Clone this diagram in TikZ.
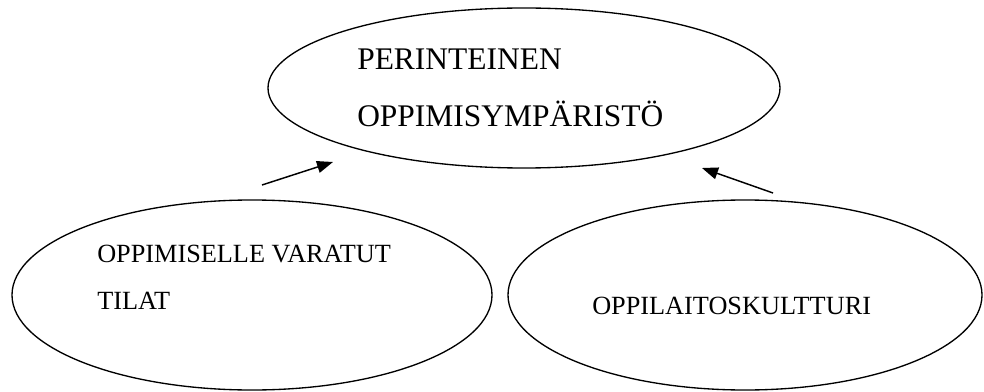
\documentclass[tikz,border=0pt]{standalone}
\usepackage{fontspec}
\setmainfont{Liberation Serif}
\usetikzlibrary{shapes.geometric}
\usetikzlibrary{arrows.meta}

\begin{document}
\begin{tikzpicture}[
x=0.75pt, y=-0.75pt,
oval/.style={
draw,
ellipse,
line width=1pt,
inner sep=0pt
},
bigtext/.style={anchor=base west, inner sep=0pt, font=\fontsize{23.6}{28}\selectfont},
smalltext/.style={anchor=base west, inner sep=0pt, font=\fontsize{19.7}{24}\selectfont},
link/.style={line width=1.1pt, -{Triangle[length=12pt,width=9pt]}}
]

\useasboundingbox (0,0) rectangle (984,392);

\node[oval, minimum width=384pt, minimum height=120pt] (env) at (524,88) {};
\node[oval, minimum width=360pt, minimum height=142.5pt] (space) at (252,295) {};
\node[oval, minimum width=355.5pt, minimum height=142.5pt] (culture) at (745,295) {};

\node[bigtext] (env1) at (357,70) {PERINTEINEN};
\node[bigtext] (env2) at (357,127) {OPPIMISYMPÄRISTÖ};
\node[smalltext] (space1) at (97,262) {OPPIMISELLE VARATUT};
\node[smalltext] (space2) at (97,309) {TILAT};
\node[smalltext] (culture1) at (592,314) {OPPILAITOSKULTTURI};

\coordinate (from1) at (262,185);
\coordinate (to1) at (333,162);
\coordinate (from2) at (773,193);
\coordinate (to2) at (702,168);

\draw[link] (from1) -- (to1);
\draw[link] (from2) -- (to2);

\end{tikzpicture}
\end{document}
